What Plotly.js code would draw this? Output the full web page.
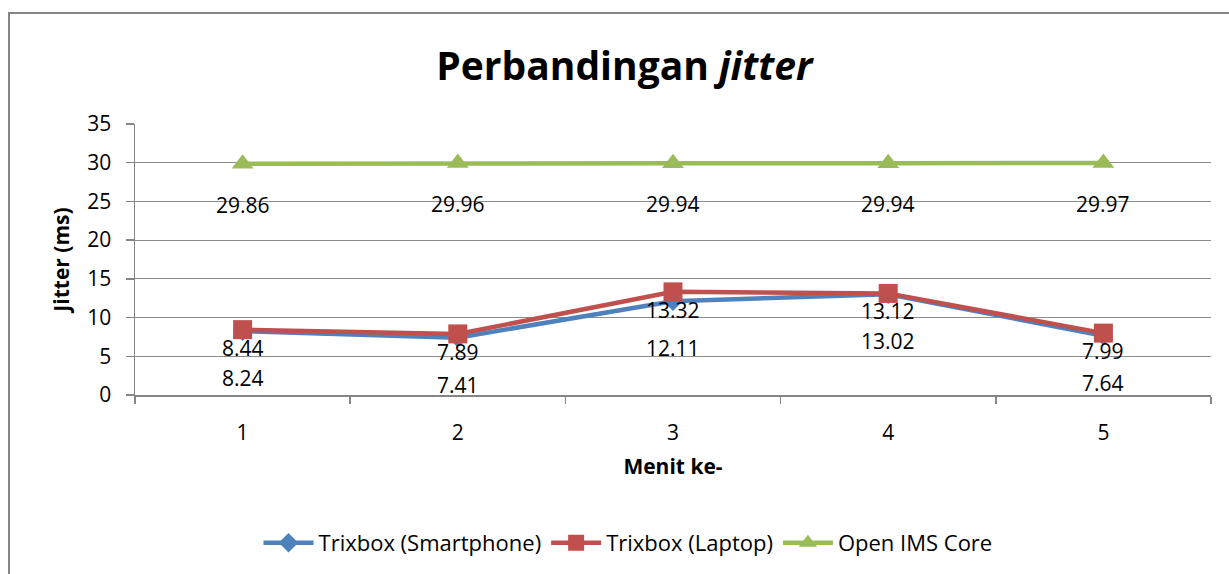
<!DOCTYPE html>
<html>
<head>
<meta charset="utf-8">
<script src="https://cdn.plot.ly/plotly-3.0.1.min.js"></script>
<style>html,body{margin:0;padding:0;background:#fff;}#chart{width:1229px;height:574px;}</style>
</head>
<body>
<div id="chart"></div>
<script>
var categories = ["1", "2", "3", "4", "5"];
var smartphone = [8.24, 7.41, 12.11, 13.02, 7.64];
var laptop = [8.44, 7.89, 13.32, 13.12, 7.99];
var openIms = [29.86, 29.96, 29.94, 29.94, 29.97];
var seriesNames = ["Trixbox (Smartphone)", "Trixbox (Laptop)", "Open IMS Core"];
var yTicks = [0, 5, 10, 15, 20, 25, 30, 35];

var FONT = "Open Sans, sans-serif";
var blue = "#4F81BD", red = "#C0504D", green = "#9BBB59";

var traces = [
  {x: categories, y: smartphone, name: seriesNames[0], type: "scatter", mode: "lines+markers",
   line: {color: blue, width: 4.5}, marker: {symbol: "diamond", size: 15, color: blue}},
  {x: categories, y: laptop, name: seriesNames[1], type: "scatter", mode: "lines+markers",
   line: {color: red, width: 4.5}, marker: {symbol: "square", size: 19, color: red}},
  {x: categories, y: openIms, name: seriesNames[2], type: "scatter", mode: "lines+markers",
   line: {color: green, width: 4.5}, marker: {symbol: "triangle-up", size: 19, color: green}}
];

var annotations = [];
function addLabels(vals, shift) {
  for (var i = 0; i < vals.length; i++) {
    annotations.push({x: i, y: vals[i], xref: "x", yref: "y", text: String(vals[i]),
      showarrow: false, yshift: shift, borderpad: 0,
      font: {family: FONT, size: 21, color: "#000"}});
  }
}
addLabels(laptop, -18);
addLabels(smartphone, -47);
addLabels(openIms, -41);

var layout = {
  width: 1229, height: 574,
  margin: {l: 135, r: 18, t: 124, b: 179},
  paper_bgcolor: "#fff", plot_bgcolor: "#fff",
  font: {family: FONT, color: "#000"},
  title: {text: "<b>Perbandingan <i>jitter</i></b>", font: {family: FONT, size: 39, color: "#000"},
          x: 0.508, xanchor: "center", y: 0.885, yanchor: "middle", xref: "container", yref: "container"},
  xaxis: {type: "category", range: [-0.5, 4.5], showgrid: false, zeroline: false,
          showline: true, linecolor: "#868686", linewidth: 1.5,
          ticks: "outside", tickson: "boundaries", ticklen: 7, tickcolor: "#868686", tickwidth: 1.5,
          tickfont: {family: FONT, size: 21, color: "#000"}, ticklabelstandoff: 18,
          title: {text: "<b>Menit ke-</b>", font: {family: FONT, size: 21, color: "#000"}, standoff: 14}},
  yaxis: {range: [0, 35], tickvals: yTicks, showgrid: true, gridcolor: "#8C8C8C", gridwidth: 1,
          zeroline: false, showline: true, linecolor: "#868686", linewidth: 1.5,
          ticks: "outside", ticklen: 8, tickcolor: "#868686", tickwidth: 1.5,
          tickfont: {family: FONT, size: 21, color: "#000"}, ticklabelstandoff: 10,
          title: {text: "<b>Jitter (ms)</b>", font: {family: FONT, size: 21, color: "#000"}, standoff: 12}},
  showlegend: true,
  legend: {orientation: "h", xref: "container", yref: "container", x: 0.511, xanchor: "center",
           y: 0.054, yanchor: "middle", font: {family: FONT, size: 22, color: "#000"},
           itemwidth: 50, tracegroupgap: 0, bgcolor: "rgba(0,0,0,0)"},
  annotations: annotations,
  shapes: [{type: "rect", xref: "paper", yref: "paper", x0: -0.1171, x1: 1.2, y0: -0.9, y1: 1.4096,
            line: {color: "#868686", width: 2}, fillcolor: "rgba(0,0,0,0)", layer: "below"}]
};

Plotly.newPlot("chart", traces, layout, {displayModeBar: false, staticPlot: true});
</script>
</body>
</html>
